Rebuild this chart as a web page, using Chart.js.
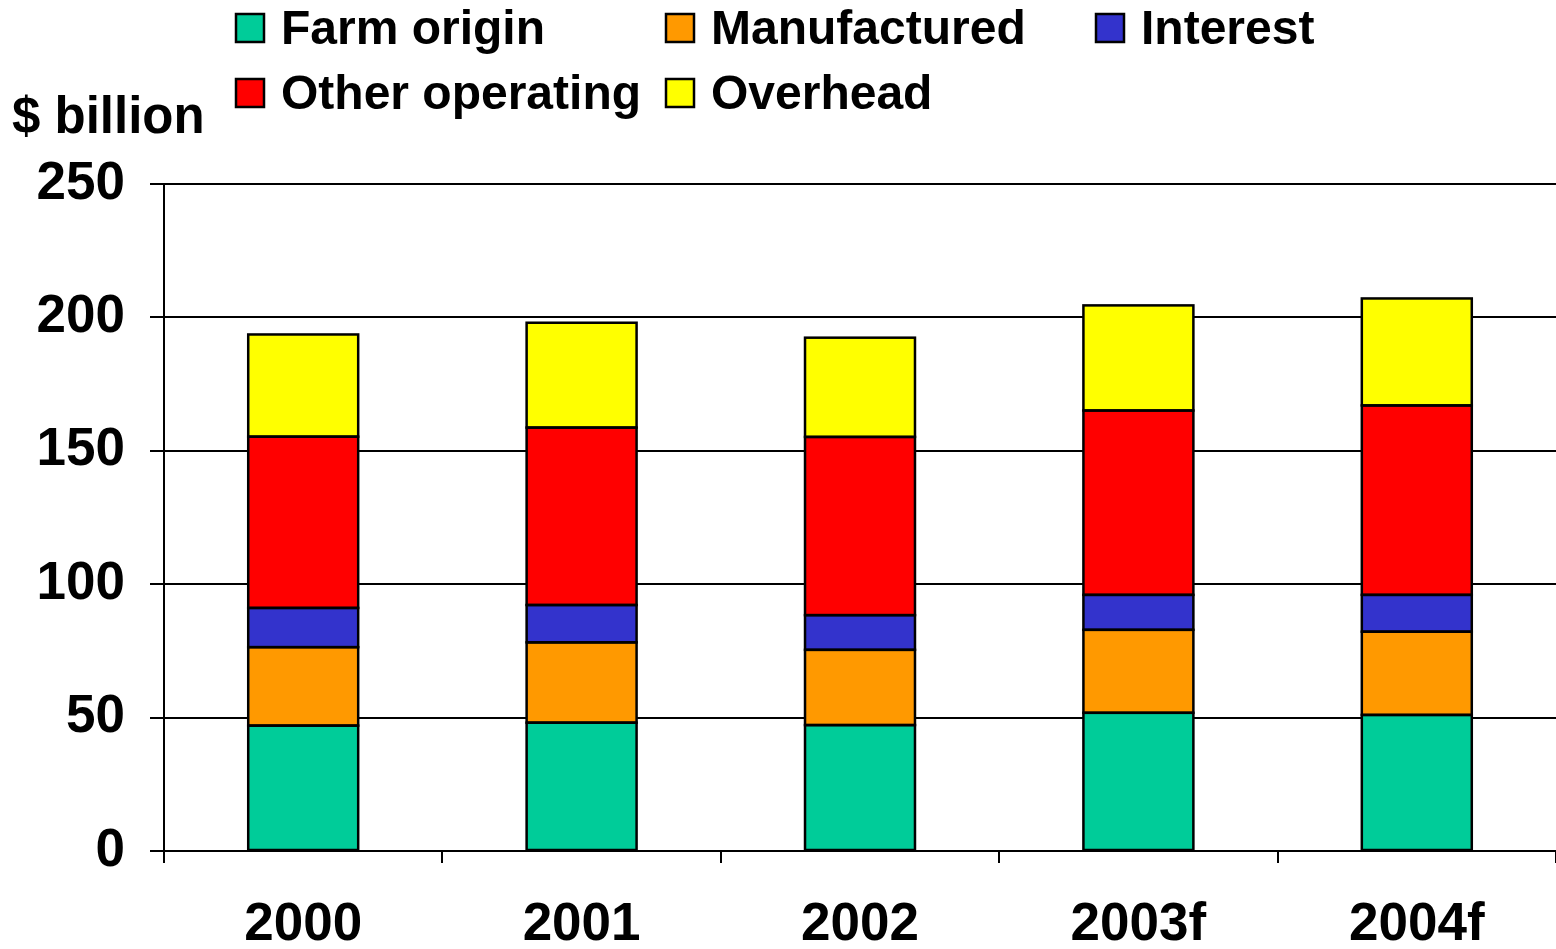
<!DOCTYPE html>
<html>
<head>
<meta charset="utf-8">
<script src="https://cdn.jsdelivr.net/npm/chart.js@4/dist/chart.umd.min.js"></script>
<style>
html, body { margin: 0; padding: 0; background: #fff; }
</style>
</head>
<body>
<canvas id="myChart" width="1556" height="949"></canvas>
<script>
var years = ["2000", "2001", "2002", "2003f", "2004f"];
var seriesNames = ["Farm origin", "Manufactured", "Interest", "Other operating", "Overhead"];
var farmOrigin = [47.0, 48.1, 47.2, 51.8, 51.0];
var manufactured = [29.4, 30.1, 28.2, 31.1, 31.2];
var interest = [14.7, 14.0, 13.0, 13.1, 13.8];
var otherOperating = [64.2, 66.5, 66.8, 69.1, 71.0];
var overhead = [38.3, 39.3, 37.2, 39.4, 40.1];
var colors = ["#00CC99", "#FF9900", "#3333CC", "#FF0000", "#FFFF00"];
var yTicks = [0, 50, 100, 150, 200, 250];
var yTitle = "$ billion";

var FONT = "'Liberation Sans', Arial, sans-serif";

// black outline round every bar segment, using the bar elements chart.js laid out
var outlinePlugin = {
    id: 'barOutline',
    afterDatasetsDraw: function(chart) {
        var ctx = chart.ctx;
        ctx.save();
        ctx.strokeStyle = '#000';
        ctx.lineWidth = 2.5;
        chart.data.datasets.forEach(function(ds, i) {
            chart.getDatasetMeta(i).data.forEach(function(bar) {
                var p = bar.getProps(['x', 'y', 'base', 'width'], true);
                var top = Math.min(p.y, p.base);
                var h = Math.abs(p.base - p.y);
                ctx.strokeRect(p.x - p.width / 2, top, p.width, h);
            });
        });
        ctx.restore();
    }
};

// legend laid out in fixed columns like the original
var legendPlugin = {
    id: 'colLegend',
    afterDraw: function(chart) {
        var ctx = chart.ctx;
        var cols = [236, 666, 1096];
        var rows = [28, 93];
        ctx.save();
        ctx.font = "bold 48px " + FONT;
        ctx.textBaseline = 'middle';
        ctx.textAlign = 'left';
        chart.data.datasets.forEach(function(ds, i) {
            var x = cols[i % 3];
            var y = rows[Math.floor(i / 3)];
            ctx.fillStyle = ds.backgroundColor;
            ctx.fillRect(x, y - 14, 28, 28);
            ctx.lineWidth = 2.5;
            ctx.strokeStyle = '#000';
            ctx.strokeRect(x, y - 14, 28, 28);
            ctx.fillStyle = '#000';
            ctx.fillText(ds.label, x + 45, y + 3);
        });
        ctx.font = "bold 51px " + FONT;
        ctx.fillText(yTitle, 12, 119);
        ctx.restore();
    }
};

var seriesData = [farmOrigin, manufactured, interest, otherOperating, overhead];
var datasets = seriesNames.map(function(name, i) {
    return {
        label: name,
        data: seriesData[i],
        backgroundColor: colors[i],
        borderWidth: 0,
        inflateAmount: 0,
        barPercentage: 0.395,
        categoryPercentage: 1
    };
});

var ctx = document.getElementById('myChart').getContext('2d');
var chart = new Chart(ctx, {
    type: 'bar',
    data: {
        labels: years,
        datasets: datasets
    },
    options: {
        responsive: false,
        animation: false,
        layout: { padding: { top: 184, left: 0, right: 0, bottom: 0 } },
        plugins: {
            legend: { display: false },
            tooltip: { enabled: false }
        },
        scales: {
            x: {
                stacked: true,
                afterFit: function(scale) { scale.height = 98; },
                grid: { offset: true, drawOnChartArea: false, drawTicks: true, tickLength: 12, color: '#000', lineWidth: 2 },
                border: { color: '#000', width: 2 },
                ticks: { color: '#000', padding: 31, font: { family: FONT, size: 53, weight: 'bold' } }
            },
            y: {
                stacked: true,
                min: 0,
                max: 250,
                afterFit: function(scale) { scale.width = 164; },
                afterBuildTicks: function(scale) {
                    scale.ticks = yTicks.map(function(v) { return { value: v }; });
                },
                grid: { color: '#000', lineWidth: 2, tickLength: 14 },
                border: { color: '#000', width: 2 },
                ticks: { color: '#000', padding: 25, font: { family: FONT, size: 53, weight: 'bold' } }
            }
        }
    },
    plugins: [outlinePlugin, legendPlugin]
});
</script>
</body>
</html>
